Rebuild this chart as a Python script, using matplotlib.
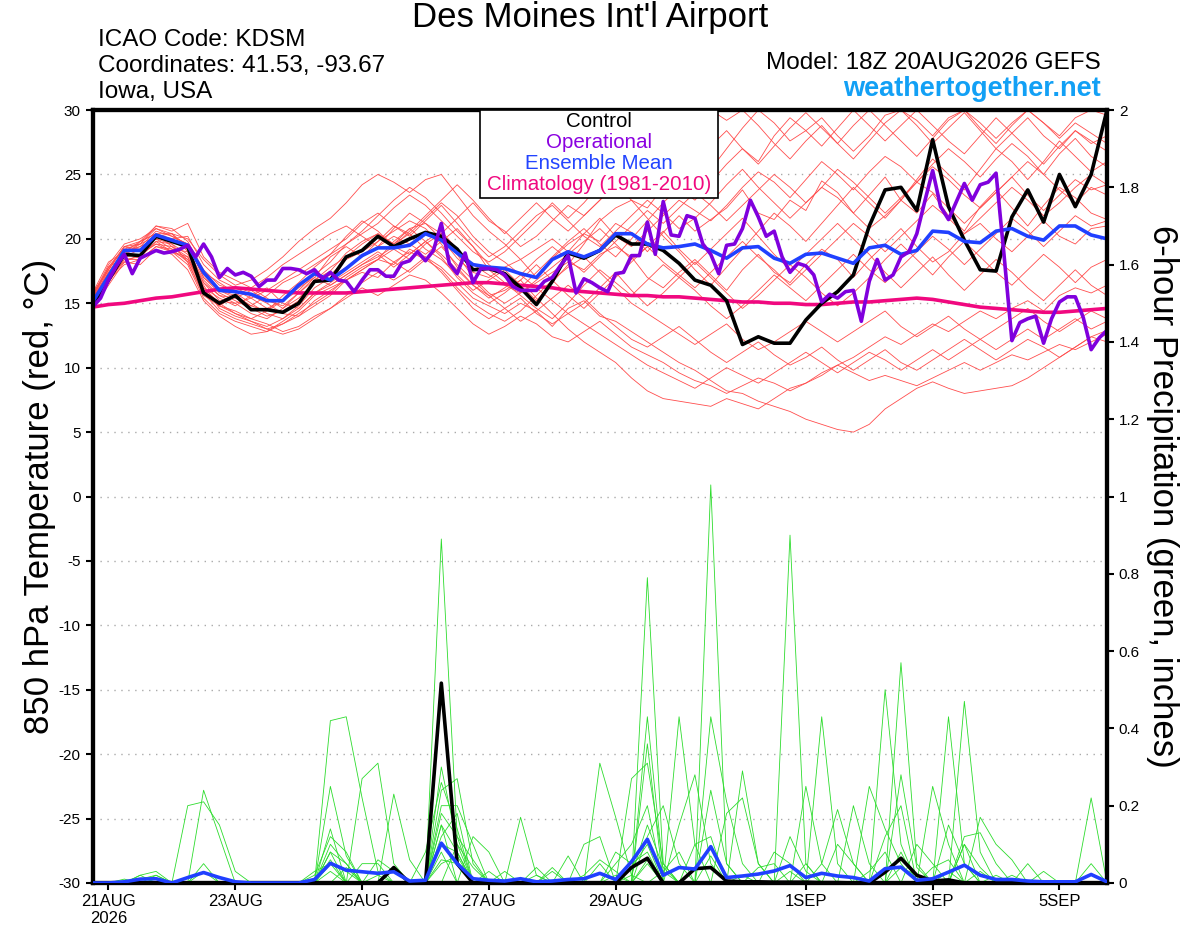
# GEFS meteogram for KDSM: 850 hPa temperature and 6-h precip
import numpy as np
import matplotlib.pyplot as plt
from matplotlib.patches import Rectangle

plt.rcParams['font.family'] = ['Liberation Sans Narrow', 'Liberation Sans', 'DejaVu Sans']
plt.rcParams['axes.unicode_minus'] = False

# hours after 18Z 20AUG2026
hours6 = np.arange(65) * 6
hours3 = np.arange(129) * 3

tick_hours = [6, 54, 102, 150, 198, 270, 318, 366]
tick_labels = ['21AUG\n2026', '23AUG', '25AUG', '27AUG', '29AUG', '1SEP', '3SEP', '5SEP']

control_temp = [
    14.8, 16.8, 18.8, 18.7, 20.2, 19.8, 19.4, 15.8, 15.0, 15.6, 14.5, 14.5, 14.3,
    15.0, 16.7, 16.8, 18.6, 19.1, 20.2, 19.4, 20.0, 20.5, 20.2, 19.2, 17.6, 17.7,
    17.3, 16.2, 14.9, 16.7, 18.9, 18.5, 19.1, 20.3, 19.6, 19.6, 19.1, 18.1, 16.8,
    16.4, 15.2, 11.8, 12.4, 11.9, 11.9, 13.7, 15.0, 15.9, 17.2, 21.0, 23.8, 24.0,
    22.2, 27.7, 22.5, 19.9, 17.6, 17.5, 21.7, 23.8, 21.3, 25.0, 22.5, 25.0, 30.0]

mean_temp = [
    15.1, 17.1, 19.1, 19.1, 20.3, 19.9, 19.5, 17.4, 16.0, 15.9, 15.7, 15.2, 15.2,
    16.4, 17.3, 16.8, 17.7, 18.7, 19.3, 19.3, 19.5, 20.4, 19.9, 18.9, 18.0, 17.8,
    17.7, 17.3, 17.0, 18.4, 19.0, 18.6, 19.1, 20.4, 20.4, 19.6, 19.3, 19.4, 19.6,
    19.1, 18.5, 19.3, 19.4, 18.5, 18.1, 18.8, 18.9, 18.5, 18.1, 19.3, 19.5, 18.8,
    19.1, 20.6, 20.5, 19.8, 19.7, 20.6, 20.8, 20.2, 19.9, 21.0, 21.0, 20.3, 20.0]

# operational run is 3-hourly
oper_temp = [
    14.7, 15.4, 16.8, 17.9, 18.8, 17.3, 18.5, 18.8, 19.1, 18.9, 19.0, 19.2, 19.5,
    18.6, 19.6, 18.6, 17.0, 17.7, 17.2, 17.4, 17.1, 16.3, 16.8, 16.8, 17.7, 17.7,
    17.6, 17.3, 17.6, 16.9, 17.4, 16.8, 16.7, 15.9, 16.8, 17.6, 17.6, 17.1, 17.1,
    18.1, 18.3, 19.0, 18.3, 19.1, 21.2, 18.1, 17.3, 18.9, 16.6, 17.7, 17.7, 17.6,
    17.2, 16.3, 16.0, 16.0, 16.0, 16.7, 17.0, 17.9, 18.7, 15.8, 16.9, 16.6, 16.2,
    15.9, 17.3, 17.4, 18.7, 18.7, 21.3, 18.8, 22.9, 20.3, 20.2, 21.8, 21.6, 19.6,
    18.8, 17.3, 19.5, 19.6, 20.8, 23.0, 21.7, 20.2, 20.6, 18.6, 17.4, 18.1, 17.9,
    17.2, 15.1, 15.7, 15.4, 15.9, 16.0, 13.6, 16.7, 18.4, 16.8, 17.2, 18.6, 19.0,
    20.4, 22.9, 25.3, 22.5, 21.5, 22.9, 24.3, 23.0, 24.2, 24.4, 25.1, 18.8, 12.1,
    13.5, 13.8, 14.0, 11.9, 13.8, 15.1, 15.5, 15.5, 13.9, 11.4, 12.3, 12.9]

clim_temp = [
    14.7, 14.9, 15.0, 15.2, 15.4, 15.5, 15.7, 15.9, 16.1, 16.2, 16.1, 16.0, 15.9,
    15.8, 15.8, 15.8, 15.8, 15.9, 16.0, 16.1, 16.2, 16.3, 16.4, 16.5, 16.6, 16.6,
    16.5, 16.4, 16.3, 16.2, 16.0, 15.9, 15.8, 15.7, 15.6, 15.6, 15.5, 15.5, 15.4,
    15.3, 15.2, 15.1, 15.1, 15.0, 15.0, 14.9, 14.9, 15.0, 15.1, 15.1, 15.2, 15.3,
    15.4, 15.3, 15.1, 14.9, 14.7, 14.6, 14.5, 14.4, 14.3, 14.3, 14.4, 14.5, 14.6]

member_temps = [
    [15.0, 17.2, 19.0, 19.4, 20.6, 20.2, 19.6, 17.0, 15.8, 15.2, 14.6, 14.0, 14.4,
     15.2, 16.8, 17.5, 18.9, 19.8, 20.4, 19.6, 20.8, 21.2, 20.0, 18.5, 17.4, 17.0,
     17.8, 18.4, 17.0, 18.5, 19.6, 20.4, 19.8, 21.2, 20.5, 19.0, 20.5, 21.8, 20.6,
     21.5, 22.4, 23.8, 22.0, 21.5, 23.0, 22.2, 24.5, 23.6, 22.0, 23.4, 24.8, 23.0,
     22.0, 23.5, 21.8, 20.6, 22.5, 23.8, 22.4, 21.0, 22.6, 24.0, 23.2, 22.0, 21.5],
    [15.4, 17.8, 18.6, 19.8, 20.4, 19.4, 18.4, 16.2, 15.4, 14.8, 15.6, 16.2, 15.0,
     14.6, 15.8, 16.4, 17.2, 18.0, 18.6, 19.4, 18.8, 19.8, 20.6, 19.2, 18.0, 17.2,
     16.4, 15.8, 16.6, 17.4, 18.2, 17.6, 18.8, 19.4, 18.6, 17.0, 16.2, 17.4, 18.4,
     17.2, 16.0, 17.6, 18.8, 17.4, 16.6, 18.0, 19.2, 18.4, 17.0, 18.4, 19.6, 20.8,
     19.4, 18.2, 19.0, 20.4, 21.2, 20.0, 19.0, 20.2, 21.4, 20.2, 19.6, 20.8, 21.0],
    [15.2, 17.0, 18.8, 18.6, 19.8, 19.6, 18.8, 16.4, 14.6, 14.0, 13.6, 13.0, 13.4,
     14.2, 15.0, 15.8, 17.0, 17.8, 18.4, 18.0, 19.2, 18.6, 17.8, 16.6, 15.4, 14.8,
     14.2, 15.0, 14.4, 13.2, 14.6, 15.2, 14.0, 13.6, 12.8, 12.0, 11.2, 10.4, 9.8,
     9.0, 8.2, 8.0, 7.4, 7.0, 6.6, 6.0, 5.6, 5.2, 5.0, 5.6, 6.8, 7.6,
     8.4, 8.9, 8.4, 8.0, 8.2, 8.4, 8.6, 9.2, 10.0, 10.8, 11.6, 12.4, 12.9],
    [15.6, 17.6, 19.4, 19.0, 20.2, 19.8, 19.2, 16.8, 15.6, 15.0, 14.2, 13.8, 14.6,
     15.4, 16.6, 17.2, 18.4, 19.0, 19.8, 20.6, 21.4, 20.8, 19.6, 17.8, 16.4, 15.6,
     16.0, 16.8, 15.4, 14.2, 13.0, 12.0, 11.2, 10.4, 9.2, 8.2, 7.6, 7.4, 7.2,
     7.0, 7.6, 7.2, 6.8, 7.6, 8.4, 8.8, 9.4, 10.2, 10.8, 11.6, 12.4, 11.8,
     12.6, 13.4, 12.8, 13.6, 14.4, 13.8, 14.6, 15.2, 14.4, 15.6, 16.2, 15.8, 16.4],
    [15.0, 17.4, 19.2, 19.6, 21.0, 20.6, 21.2, 18.6, 17.4, 16.8, 16.2, 17.0, 18.0,
     18.8, 19.6, 20.4, 21.0, 20.2, 19.4, 20.8, 22.0, 21.2, 20.4, 21.6, 22.8, 21.4,
     20.6, 19.4, 20.2, 21.4, 22.6, 21.8, 23.0, 24.2, 23.0, 22.4, 24.0, 25.6, 26.8,
     25.4, 27.0, 28.6, 30.0, 29.0, 27.6, 28.4, 29.4, 28.0, 26.8, 28.0, 29.6, 30.0,
     28.8, 27.4, 28.6, 29.8, 28.4, 27.0, 28.2, 29.4, 28.0, 27.0, 28.4, 27.6, 26.8],
    [15.6, 18.0, 19.6, 20.0, 20.8, 20.4, 20.0, 18.4, 17.2, 16.4, 16.8, 17.6, 18.6,
     19.8, 20.8, 21.6, 22.8, 24.2, 25.0, 24.4, 23.6, 24.6, 25.0, 23.4, 21.8, 20.6,
     19.6, 18.4, 19.2, 20.0, 19.0, 20.4, 21.6, 20.2, 19.4, 20.6, 21.8, 23.0, 22.2,
     21.4, 22.6, 24.0, 25.2, 24.4, 23.2, 24.6, 26.0, 25.0, 23.8, 25.2, 26.4, 25.6,
     24.4, 25.8, 27.0, 26.0, 24.8, 26.2, 27.4, 26.4, 25.0, 26.6, 27.8, 26.4, 25.6],
    [14.8, 16.6, 18.4, 18.4, 19.4, 19.0, 18.0, 15.4, 14.2, 13.6, 13.2, 12.8, 13.6,
     14.4, 15.6, 16.2, 16.8, 17.4, 17.0, 18.2, 19.0, 18.4, 17.6, 16.2, 15.0, 14.2,
     13.6, 14.4, 15.6, 16.8, 17.8, 18.6, 17.4, 16.2, 15.0, 14.2, 13.4, 12.6, 11.8,
     12.6, 13.4, 12.2, 11.4, 12.0, 12.8, 13.6, 12.8, 12.0, 12.8, 13.6, 14.4, 13.2,
     12.4, 13.2, 14.0, 13.0, 12.2, 13.0, 13.8, 14.6, 13.6, 12.8, 13.6, 14.4, 13.8],
    [15.2, 17.0, 18.2, 18.8, 19.6, 19.0, 18.6, 16.0, 14.8, 14.4, 13.8, 13.4, 12.8,
     13.2, 14.0, 14.6, 15.4, 16.2, 15.6, 16.4, 17.2, 16.8, 15.8, 14.6, 13.4, 12.6,
     13.2, 14.0, 13.4, 12.4, 12.0, 12.8, 13.6, 12.6, 11.6, 11.0, 10.4, 9.6, 9.0,
     8.6, 8.0, 8.6, 9.2, 8.8, 8.2, 8.8, 9.6, 10.2, 9.6, 9.0, 9.4, 9.0,
     8.6, 9.2, 9.8, 10.4, 9.8, 10.4, 11.0, 10.6, 11.2, 11.8, 11.4, 12.0, 12.6],
    [15.8, 18.2, 19.0, 19.8, 21.0, 20.8, 19.8, 17.6, 16.4, 16.0, 15.4, 16.0, 16.8,
     17.6, 18.4, 19.2, 20.0, 21.2, 22.0, 21.0, 20.2, 21.4, 22.6, 21.2, 19.8, 18.6,
     19.4, 20.6, 21.8, 22.6, 21.4, 20.2, 19.4, 20.6, 21.8, 23.0, 22.0, 20.8, 21.6,
     22.8, 24.2, 25.4, 24.0, 22.8, 21.6, 22.8, 24.0, 23.2, 22.0, 20.8, 21.8, 23.0,
     24.4, 23.6, 22.4, 21.2, 22.4, 23.6, 24.8, 23.4, 22.2, 23.4, 24.6, 23.8, 24.2],
    [15.4, 17.2, 18.6, 19.2, 20.0, 19.6, 18.2, 15.6, 14.8, 15.6, 16.2, 15.4, 14.6,
     15.8, 17.0, 18.6, 19.4, 18.6, 19.8, 21.0, 20.4, 19.2, 18.4, 17.2, 16.0, 16.8,
     17.6, 16.4, 15.2, 16.6, 18.0, 19.6, 21.4, 22.4, 23.0, 21.6, 20.2, 19.0, 17.6,
     16.4, 17.8, 19.2, 20.6, 22.0, 21.0, 19.8, 21.2, 22.6, 24.0, 22.8, 21.6, 23.0,
     24.6, 26.2, 25.0, 23.8, 25.4, 27.0, 26.0, 24.6, 26.0, 27.6, 26.4, 25.2, 26.0],
    [14.6, 16.4, 18.2, 18.0, 19.2, 18.8, 17.6, 15.2, 14.0, 13.2, 12.6, 12.8, 13.4,
     14.0, 15.2, 16.0, 16.8, 17.6, 18.4, 19.2, 18.4, 19.6, 20.4, 18.8, 17.0, 15.8,
     15.0, 15.8, 16.8, 17.8, 18.8, 19.8, 20.8, 19.6, 18.4, 19.4, 20.6, 19.2, 18.0,
     19.2, 20.4, 21.6, 20.2, 18.8, 17.6, 18.8, 20.0, 21.2, 20.0, 18.8, 17.4, 16.2,
     17.4, 18.6, 17.2, 16.0, 17.2, 18.4, 17.4, 16.2, 15.2, 16.4, 17.6, 16.4, 15.6],
    [15.2, 17.6, 19.4, 19.2, 20.4, 20.4, 19.4, 17.2, 16.0, 15.4, 14.8, 15.6, 16.6,
     17.2, 18.0, 18.8, 19.6, 20.4, 21.2, 22.4, 23.4, 22.6, 21.4, 20.2, 19.0, 18.2,
     19.0, 20.2, 21.4, 22.8, 21.6, 22.8, 24.2, 25.6, 26.4, 25.2, 27.0, 28.6, 29.6,
     30.0, 29.2, 30.0, 28.8, 27.4, 26.2, 27.6, 28.8, 27.4, 26.2, 27.6, 29.0, 30.0,
     29.2, 28.0, 29.4, 30.0, 28.6, 27.4, 28.8, 30.0, 29.0, 27.8, 29.0, 28.2, 27.4],
    [15.0, 16.8, 18.0, 18.4, 19.4, 19.2, 18.2, 15.8, 14.4, 13.8, 13.4, 13.0, 12.6,
     13.0, 13.8, 14.6, 15.6, 16.6, 17.4, 16.8, 17.6, 18.6, 17.4, 16.0, 14.6, 13.8,
     14.6, 15.4, 14.2, 13.4, 14.2, 15.0, 16.2, 17.4, 16.0, 14.8, 15.8, 17.0, 18.2,
     17.0, 15.8, 14.6, 15.6, 16.8, 18.0, 17.0, 15.8, 14.8, 15.8, 17.0, 18.4, 19.6,
     18.4, 17.2, 18.6, 19.8, 18.6, 17.4, 16.4, 17.6, 18.8, 17.8, 16.6, 17.8, 18.4],
    [15.4, 17.4, 19.0, 19.4, 20.0, 19.2, 19.0, 16.6, 15.2, 15.0, 15.4, 14.6, 15.2,
     16.0, 17.2, 18.2, 19.6, 20.6, 21.8, 23.0, 24.0, 23.2, 22.0, 20.6, 19.4, 18.0,
     17.0, 16.2, 17.4, 18.6, 19.8, 20.8, 19.6, 18.6, 20.0, 21.4, 22.8, 24.0, 23.0,
     24.4, 25.8, 27.0, 26.0, 28.0, 29.4, 28.4, 27.2, 28.6, 30.0, 28.8, 27.6, 28.8,
     30.0, 28.8, 27.6, 26.6, 28.0, 29.4, 28.2, 27.0, 25.8, 27.2, 28.4, 27.4, 28.0],
    [15.6, 17.8, 19.2, 19.0, 20.2, 20.0, 19.4, 17.4, 16.6, 15.8, 15.0, 14.2, 13.8,
     14.8, 16.2, 17.0, 17.8, 18.6, 19.4, 20.2, 19.6, 18.8, 19.8, 20.8, 19.4, 17.6,
     16.6, 15.6, 14.6, 13.8, 15.0, 16.4, 17.6, 16.6, 15.6, 16.8, 18.0, 17.0, 16.0,
     14.8, 13.8, 14.8, 16.0, 17.2, 16.2, 15.2, 16.4, 17.6, 18.8, 17.6, 16.6, 17.8,
     19.0, 20.2, 19.2, 18.0, 19.2, 20.4, 21.6, 20.6, 19.4, 20.6, 21.8, 21.0, 21.4],
    [15.0, 17.0, 18.6, 18.8, 19.6, 19.4, 18.6, 16.2, 15.0, 14.2, 13.6, 13.2, 13.8,
     14.6, 15.8, 16.6, 17.4, 18.2, 19.0, 18.2, 17.4, 18.4, 19.4, 18.0, 16.8, 15.6,
     14.6, 13.6, 14.4, 15.4, 16.4, 15.4, 14.2, 13.2, 12.2, 11.6, 12.4, 13.2, 12.2,
     11.2, 10.4, 11.2, 12.0, 11.0, 10.2, 10.8, 11.6, 10.6, 9.8, 10.6, 11.4, 10.4,
     9.8, 10.6, 11.4, 12.2, 11.4, 10.6, 11.4, 12.2, 11.6, 10.8, 11.6, 12.4, 12.0],
    [15.2, 17.2, 18.8, 19.6, 20.2, 20.4, 19.0, 16.6, 15.6, 15.4, 16.0, 15.2, 14.8,
     15.8, 16.8, 17.8, 18.6, 19.6, 20.4, 19.6, 20.4, 21.6, 22.8, 21.8, 20.2, 19.0,
     18.2, 17.2, 18.4, 19.4, 18.4, 17.4, 18.6, 19.8, 21.0, 22.2, 21.2, 22.4, 23.6,
     22.6, 21.4, 22.6, 23.8, 25.0, 24.0, 22.8, 24.0, 25.4, 24.4, 23.2, 22.0, 23.2,
     24.4, 25.6, 24.6, 23.4, 22.4, 23.6, 24.8, 26.0, 25.0, 23.8, 22.8, 24.0, 23.4],
    [15.8, 17.6, 19.4, 19.8, 20.4, 20.0, 20.2, 18.0, 16.8, 16.2, 15.6, 15.0, 14.2,
     14.0, 14.8, 15.6, 16.8, 17.6, 18.4, 19.8, 20.8, 19.8, 18.6, 17.0, 15.8, 15.0,
     15.8, 16.8, 18.0, 16.8, 15.6, 14.6, 15.8, 17.0, 18.2, 19.4, 18.2, 17.2, 16.2,
     17.4, 18.6, 19.8, 18.6, 17.6, 16.4, 17.6, 18.8, 20.0, 21.2, 20.2, 19.0, 20.2,
     21.4, 22.6, 21.6, 20.4, 21.6, 22.8, 24.0, 23.0, 21.8, 22.8, 24.0, 25.0, 24.2],
    [15.4, 17.8, 19.4, 19.6, 20.8, 20.2, 19.6, 17.0, 16.0, 15.6, 14.8, 14.4, 15.6,
     16.6, 17.8, 18.8, 20.2, 21.4, 20.6, 19.4, 20.6, 21.8, 23.0, 24.2, 23.0, 21.6,
     20.4, 21.6, 22.8, 21.6, 20.6, 21.8, 23.0, 24.4, 25.6, 24.4, 23.2, 24.6, 25.8,
     27.2, 28.4, 27.0, 25.8, 27.2, 28.6, 29.8, 28.6, 27.4, 28.8, 30.0, 28.8, 27.6,
     26.4, 27.8, 29.2, 30.0, 29.0, 27.8, 29.0, 30.0, 29.0, 28.0, 29.4, 30.0, 29.6],
    [15.0, 16.8, 18.4, 18.6, 19.8, 19.0, 18.4, 16.0, 14.8, 14.2, 13.8, 14.4, 15.2,
     16.2, 17.0, 16.4, 17.2, 18.0, 18.8, 17.8, 18.8, 19.8, 18.8, 17.6, 16.4, 15.4,
     16.2, 17.2, 16.2, 15.2, 14.2, 13.4, 12.6, 11.8, 11.0, 10.2, 9.6, 9.0, 8.4,
     9.2, 10.0, 9.4, 8.8, 9.6, 10.4, 11.2, 10.4, 9.6, 10.4, 11.2, 10.6, 9.8,
     10.6, 11.4, 10.6, 11.4, 12.2, 11.4, 12.2, 13.0, 12.2, 13.0, 13.8, 13.0, 13.6],
]

control_precip = [
    0, 0, 0, 0, 0, 0, 0, 0, 0, 0, 0, 0, 0,
    0, 0, 0, 0, 0, 0, 0.04, 0, 0, 0.517, 0.05, 0, 0,
    0, 0, 0, 0, 0, 0, 0, 0, 0.04, 0.064, 0, 0, 0.037,
    0.04, 0.005, 0.003, 0.003, 0.002, 0.002, 0.002, 0.001, 0.001, 0, 0, 0.028, 0.064,
    0.02, 0.005, 0.008, 0, 0, 0, 0, 0, 0, 0, 0, 0, 0]

mean_precip = [
    0, 0, 0.003, 0.01, 0.011, 0, 0.014, 0.027, 0.014, 0.003, 0, 0, 0,
    0, 0.009, 0.051, 0.033, 0.029, 0.025, 0.029, 0.005, 0.007, 0.103, 0.05, 0.011, 0.007,
    0.005, 0.011, 0.003, 0.005, 0.009, 0.011, 0.025, 0.009, 0.055, 0.113, 0.02, 0.04, 0.036,
    0.094, 0.014, 0.018, 0.023, 0.031, 0.045, 0.014, 0.025, 0.018, 0.014, 0.005, 0.037, 0.041,
    0.007, 0.011, 0.028, 0.046, 0.02, 0.009, 0.009, 0.005, 0.003, 0.003, 0.003, 0.022, 0.003]

# member precip: only the wet 6-h periods (step index: inches), all others dry
member_precip = [
    {3: 0.02, 4: 0.03, 7: 0.24, 8: 0.12, 22: 0.89, 23: 0.12, 35: 0.79, 36: 0.05, 50: 0.5, 51: 0.1, 63: 0.22},
    {2: 0.01, 4: 0.02, 15: 0.42, 16: 0.43, 17: 0.22, 18: 0.03, 39: 1.03, 40: 0.05, 55: 0.47, 56: 0.08},
    {6: 0.2, 7: 0.21, 8: 0.15, 9: 0.03, 22: 0.3, 23: 0.1, 44: 0.9, 45: 0.05, 54: 0.43, 55: 0.05},
    {17: 0.27, 18: 0.31, 19: 0.05, 22: 0.24, 23: 0.27, 24: 0.05, 37: 0.43, 38: 0.1, 51: 0.57, 52: 0.05},
    {15: 0.25, 16: 0.07, 22: 0.15, 32: 0.31, 33: 0.17, 34: 0.02, 46: 0.43, 47: 0.05, 53: 0.25, 54: 0.1},
    {3: 0.01, 4: 0.02, 15: 0.14, 19: 0.23, 20: 0.06, 24: 0.12, 25: 0.08, 35: 0.43, 36: 0.03, 41: 0.29,
     42: 0.05, 56: 0.17, 57: 0.1, 58: 0.06},
    {7: 0.05, 15: 0.1, 16: 0.05, 22: 0.2, 23: 0.2, 24: 0.1, 27: 0.17, 28: 0.02, 35: 0.36, 39: 0.43,
     40: 0.21, 41: 0.05, 48: 0.2, 49: 0.05},
    {14: 0.02, 15: 0.12, 16: 0.08, 22: 0.12, 23: 0.18, 31: 0.1, 32: 0.12, 34: 0.27, 35: 0.31, 36: 0.05,
     45: 0.25, 46: 0.05, 47: 0.19, 48: 0.05, 59: 0.05},
    {15: 0.06, 17: 0.05, 18: 0.05, 21: 0.08, 22: 0.26, 23: 0.14, 30: 0.07, 33: 0.05, 34: 0.1, 35: 0.2,
     37: 0.15, 38: 0.28, 39: 0.05, 43: 0.08, 44: 0.05, 49: 0.25, 50: 0.14, 51: 0.05},
    {16: 0.04, 18: 0.06, 19: 0.03, 22: 0.15, 23: 0.08, 26: 0.03, 28: 0.04, 35: 0.12, 36: 0.2, 37: 0.05,
     40: 0.18, 41: 0.22, 42: 0.05, 52: 0.1, 53: 0.05, 55: 0.12, 56: 0.13, 57: 0.05},
    {15: 0.08, 16: 0.05, 22: 0.18, 23: 0.12, 24: 0.06, 29: 0.04, 33: 0.08, 34: 0.05, 35: 0.08, 39: 0.24,
     40: 0.05, 46: 0.05, 51: 0.28, 52: 0.04, 55: 0.1, 60: 0.03},
    {3: 0.02, 15: 0.08, 22: 0.1, 23: 0.08, 32: 0.05, 34: 0.02, 35: 0.15, 36: 0.04, 38: 0.1, 39: 0.12,
     44: 0.12, 45: 0.03, 50: 0.12, 51: 0.2, 54: 0.15, 55: 0.05, 63: 0.05},
    {4: 0.01, 15: 0.05, 16: 0.03, 23: 0.1, 24: 0.04, 28: 0.02, 34: 0.04, 35: 0.1, 42: 0.04, 43: 0.05,
     47: 0.1, 48: 0.05, 55: 0.1, 56: 0.04, 58: 0.02},
    {22: 0.05, 23: 0.07, 25: 0.03, 31: 0.02, 32: 0.06, 33: 0.03, 36: 0.03, 37: 0.08, 44: 0.03, 49: 0.03,
     50: 0.08, 53: 0.04, 54: 0.06, 57: 0.02},
    {7: 0.03, 14: 0.03, 15: 0.05, 18: 0.02, 22: 0.08, 29: 0.03, 33: 0.02, 35: 0.05, 41: 0.02, 45: 0.05,
     51: 0.04, 52: 0.02, 56: 0.03},
    {15: 0.03, 22: 0.06, 23: 0.05, 35: 0.06, 39: 0.07, 51: 0.08, 54: 0.03},
]

for m in member_temps:
    assert len(m) == 65, len(m)
assert len(oper_temp) == 129

fig = plt.figure(figsize=(12, 9.27), dpi=100)
ax = fig.add_axes([0.0772, 0.0475, 0.8453, 0.8338])
ax2 = ax.twinx()

for m in member_temps:
    ax.plot(hours6, m, color='#ff4d4d', lw=0.6, zorder=2)
ax.plot(hours6, clim_temp, color='#f0087f', lw=2.6, zorder=3)
ax.plot(hours6, control_temp, color='black', lw=2.6, zorder=4)
ax.plot(hours6, mean_temp, color='#2040ff', lw=2.6, zorder=5)
ax.plot(hours3, oper_temp, color='#8000dd', lw=2.6, zorder=6)

for d in member_precip:
    p = np.zeros(65)
    for k, v in d.items():
        p[k] = v
    ax2.plot(hours6, p, color='#2ddc2d', lw=0.6, zorder=2)
ax2.plot(hours6, control_precip, color='black', lw=2.6, zorder=4)
ax2.plot(hours6, mean_precip, color='#2040ff', lw=2.6, zorder=5)

ax.set_xlim(0, 384)
ax.set_ylim(-30, 30)
ax2.set_ylim(0, 2)
ax.set_yticks(np.arange(-30, 31, 5))
ax2.set_yticks(np.arange(0, 2.01, 0.2))
ax2.set_yticklabels(['%g' % v for v in np.arange(0, 2.01, 0.2).round(1)])
ax.set_xticks(tick_hours)
ax.set_xticklabels(tick_labels)

for yv in np.arange(-25, 26, 5):
    ax.axhline(yv, color='#aaaaaa', lw=1.0, ls=(0, (1, 4)), zorder=1)

for a in (ax, ax2):
    for s in a.spines.values():
        s.set_linewidth(3)
    a.tick_params(direction='out', length=5, width=1.5, labelsize=11)
ax.tick_params(axis='x', labelsize=12, pad=3)

ax.set_ylabel('850 hPa Temperature (red, °C)', fontsize=25, labelpad=2)
ax2.set_ylabel('6-hour Precipitation (green, inches)', fontsize=25, rotation=270, labelpad=28)

# legend box
ax2.add_patch(Rectangle((0.382, 0.886), 0.2345, 0.114, transform=ax2.transAxes,
                        facecolor='white', edgecolor='black', lw=1.2, zorder=10))
legend_items = [('Control', 'black'), ('Operational', '#8a00e0'),
                ('Ensemble Mean', '#2244ff'), ('Climatology (1981-2010)', '#f0087f')]
for n, (label, col) in enumerate(legend_items):
    ax2.text(0.4995, 0.9858 - n * 0.0275, label, color=col, fontsize=14.8,
             ha='center', va='center', transform=ax2.transAxes, zorder=11)

fig.text(0.492, 0.9806, "Des Moines Int'l Airport", fontsize=25, ha='center', va='center')
fig.text(0.0817, 0.9569, 'ICAO Code: KDSM', fontsize=17.5, va='center')
fig.text(0.0817, 0.9288, 'Coordinates: 41.53, -93.67', fontsize=17.5, va='center')
fig.text(0.0817, 0.9008, 'Iowa, USA', fontsize=17.5, va='center')
fig.text(0.9175, 0.9320, 'Model: 18Z 20AUG2026 GEFS', fontsize=17.5, ha='right', va='center')
fig.text(0.9175, 0.9040, 'weathertogether.net', fontsize=19.5, ha='right', va='center',
         color='#12a0f5', fontweight='bold')

fig.savefig('out.png', dpi=100)
